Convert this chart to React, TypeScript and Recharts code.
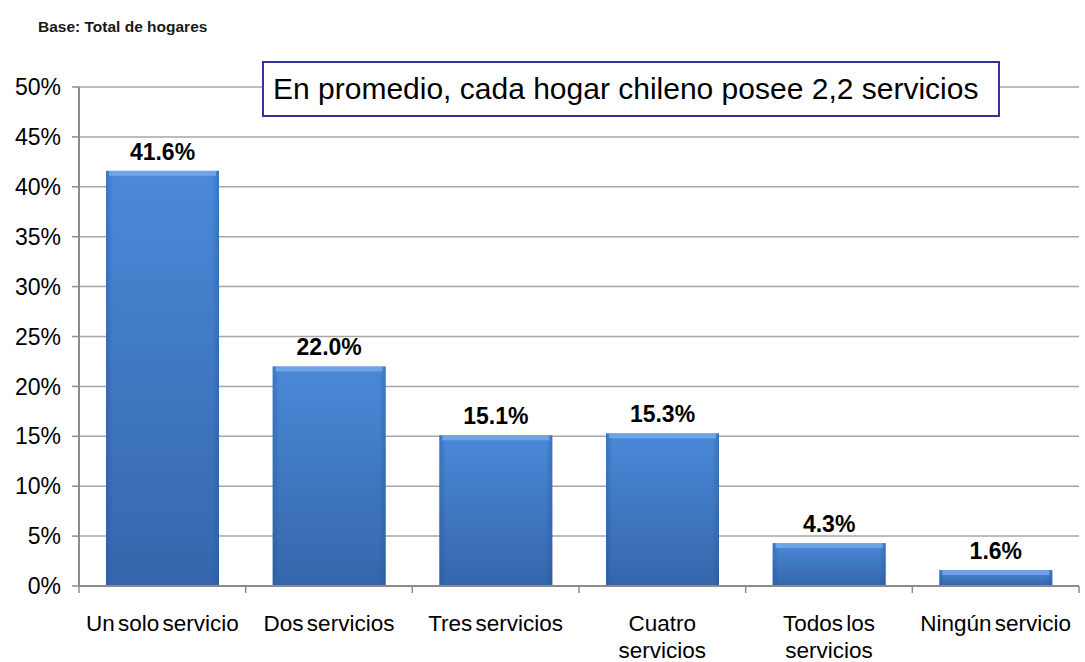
import React from 'react';
import { BarChart, Bar, XAxis, YAxis, CartesianGrid, LabelList } from 'recharts';

const categories = [
  'Un solo servicio',
  'Dos servicios',
  'Tres servicios',
  'Cuatro servicios',
  'Todos los servicios',
  'Ningún servicio'
];
// cómo se parte cada etiqueta del eje X
const tickLabels = [
  ['Un solo servicio'],
  ['Dos servicios'],
  ['Tres servicios'],
  ['Cuatro', 'servicios'],
  ['Todos los', 'servicios'],
  ['Ningún servicio']
];
const values = [41.6, 22.0, 15.1, 15.3, 4.3, 1.6];
const yTicks = [0, 5, 10, 15, 20, 25, 30, 35, 40, 45, 50];

const data = categories.map((name, i) => ({ name, value: values[i] }));

const FONT = '"Liberation Sans", Arial, sans-serif';
const AXIS = '#8c8c8c';

// etiqueta + marcas en los bordes de cada categoría
const CategoryTick = (props: any) => {
  const { x, y, index, payload, visibleTicksCount } = props;
  const half = payload && payload.offset ? payload.offset : 0;
  const lines = tickLabels[index] || [];
  const top = y - 8;
  return (
    <g>
      <line x1={x - half} x2={x - half} y1={top} y2={top + 7} stroke={AXIS} strokeWidth={1.5} />
      {index === (visibleTicksCount || categories.length) - 1 && (
        <line x1={x + half} x2={x + half} y1={top} y2={top + 7} stroke={AXIS} strokeWidth={1.5} />
      )}
      <text x={x} y={y} textAnchor="middle" fontFamily={FONT} fontSize={22.5} fill="#000" style={{ wordSpacing: -3 }}>
        {lines.map((l, i) => (
          <tspan key={i} x={x} dy={i === 0 ? 37 : 27}>
            {l}
          </tspan>
        ))}
      </text>
    </g>
  );
};

const BarShape = (props: any) => {
  const { x, y, width, height } = props;
  if (!height || height <= 0) return null;
  return (
    <g>
      <rect x={x} y={y} width={width} height={height} fill="url(#barGrad)" />
      <rect x={x} y={y} width={width} height={height} fill="url(#barSide)" />
      <rect x={x + 3} y={y} width={width - 6} height={Math.min(5, height)} fill="#7fb0ee" opacity={0.7} />
    </g>
  );
};

const App: React.FC = () => {
  return (
    <div style={{ position: 'absolute', left: 0, top: 0, width: 1085, height: 662, background: '#fff' }}>
      <div
        style={{
          position: 'absolute',
          left: 38,
          top: 18,
          fontFamily: FONT,
          fontSize: 15.5,
          fontWeight: 'bold',
          color: '#1a1a1a'
        }}
      >
        Base: Total de hogares
      </div>
      <BarChart
        width={1085}
        height={662}
        data={data}
        margin={{ top: 87, right: 6, bottom: 6, left: 0 }}
        barCategoryGap={27}
      >
        <defs>
          <linearGradient id="barGrad" x1="0" y1="0" x2="0" y2="1">
            <stop offset="0%" stopColor="#4a89d8" />
            <stop offset="100%" stopColor="#3566ab" />
          </linearGradient>
          <linearGradient id="barSide" x1="0" y1="0" x2="1" y2="0">
            <stop offset="0%" stopColor="#1e4f90" stopOpacity={0.35} />
            <stop offset="6%" stopColor="#1e4f90" stopOpacity={0} />
            <stop offset="94%" stopColor="#1e4f90" stopOpacity={0} />
            <stop offset="100%" stopColor="#1e4f90" stopOpacity={0.35} />
          </linearGradient>
        </defs>
        <CartesianGrid vertical={false} stroke="#a6a6a6" strokeWidth={1.5} />
        <XAxis
          dataKey="name"
          height={70}
          tickLine={false}
          tickSize={0}
          tickMargin={8}
          axisLine={{ stroke: AXIS, strokeWidth: 2 }}
          tick={<CategoryTick />}
          interval={0}
        />
        <YAxis
          width={79}
          domain={[0, 50]}
          ticks={yTicks}
          tickFormatter={(v) => `${v}%`}
          tickSize={7}
          tickMargin={11}
          axisLine={{ stroke: AXIS, strokeWidth: 2 }}
          tickLine={{ stroke: AXIS, strokeWidth: 1.5 }}
          tick={{ fontFamily: FONT, fontSize: 23, fill: '#000' }}
        />
        <Bar dataKey="value" shape={<BarShape />} isAnimationActive={false}>
          <LabelList
            dataKey="value"
            position="top"
            offset={11}
            formatter={(v: any) => `${Number(v).toFixed(1)}%`}
            style={{ fontFamily: FONT, fontSize: 23, fontWeight: 'bold', fill: '#000' }}
          />
        </Bar>
      </BarChart>
      <div
        style={{
          position: 'absolute',
          left: 262,
          top: 61,
          width: 725,
          height: 52,
          border: '2px solid #33339a',
          background: '#fff',
          fontFamily: FONT,
          fontSize: 30,
          lineHeight: '52px',
          paddingLeft: 9,
          boxSizing: 'content-box',
          whiteSpace: 'nowrap',
          color: '#000'
        }}
      >
        En promedio, cada hogar chileno posee 2,2 servicios
      </div>
    </div>
  );
};

export default App;
